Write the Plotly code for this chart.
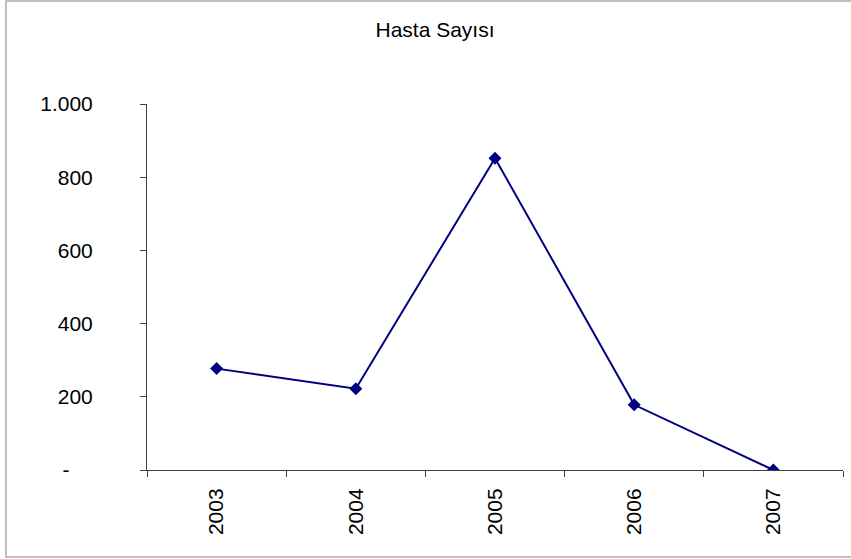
import plotly.graph_objects as go

years = ["2003", "2004", "2005", "2006", "2007"]
patients = [277, 222, 852, 178, 0]
y_tickvals = [0, 200, 400, 600, 800, 1000]
y_ticktext = ["-\u00a0\u00a0\u00a0\u00a0", "200", "400", "600", "800", "1.000"]
title_text = "Hasta Sayısı"

FONT = "Liberation Sans, Arial, sans-serif"
NAVY = "#000080"

# plot area in pixels
L, R, T, B = 147, 843, 104, 470
W, H = 851, 559
PW, PH = R - L, B - T

fig = go.Figure()
fig.add_trace(go.Scatter(
    x=years, y=patients, mode="lines+markers",
    line=dict(color=NAVY, width=2),
    marker=dict(symbol="diamond", size=10, color=NAVY),
    showlegend=False,
))

fig.update_layout(
    width=W, height=H, autosize=False,
    margin=dict(l=L, r=W - R, t=T, b=H - B, pad=0),
    paper_bgcolor="white", plot_bgcolor="white",
    font=dict(family=FONT, size=21, color="black"),
    title=dict(text=title_text, x=435 / W, xref="container", xanchor="center",
               y=1 - 30 / H, yref="container", yanchor="middle",
               font=dict(family=FONT, size=21, color="black")),
    xaxis=dict(type="category", range=[-0.5, 4.5], tickson="boundaries",
               ticks="outside", ticklen=6, tickcolor="#404040", tickwidth=1,
               showline=True, linecolor="#404040", linewidth=1,
               showgrid=False, zeroline=False, tickangle=-90,
               tickfont=dict(family=FONT, size=21, color="black"),
               ticklabelstandoff=9),
    yaxis=dict(range=[0, 1000], tickvals=y_tickvals, ticktext=y_ticktext,
               ticks="outside", ticklen=6, tickcolor="#404040", tickwidth=1,
               showline=True, linecolor="#404040", linewidth=1,
               showgrid=False, zeroline=False,
               tickfont=dict(family=FONT, size=21, color="black"),
               ticklabelstandoff=43),
    shapes=[dict(type="rect", xref="paper", yref="paper",
                 x0=(6 - L) / PW, x1=(W + 6 - L) / PW,
                 y0=(B - 557) / PH, y1=(B - 1) / PH,
                 line=dict(color="#c0c0c0", width=2), layer="below")],
)

fig.write_html("out.html", config={"displayModeBar": False},
               post_script="document.body.style.margin='0';")
